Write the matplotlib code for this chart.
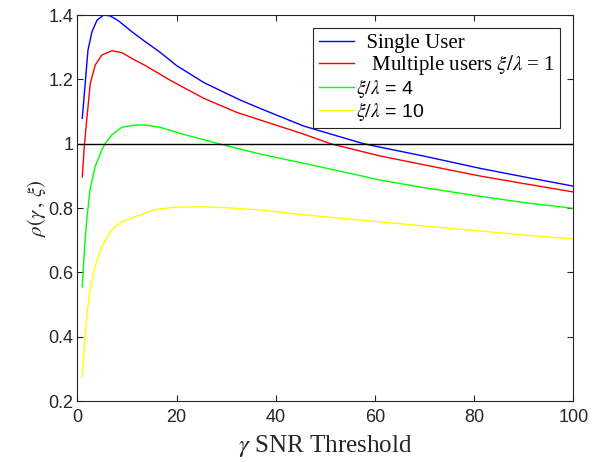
import numpy as np
import matplotlib
matplotlib.use("Agg")
import matplotlib.pyplot as plt
from matplotlib.ticker import FormatStrFormatter

plt.rcParams['mathtext.fontset'] = 'stix'

# values
x_single = [1.0, 1.5, 2.15, 2.96, 3.97, 5.3, 6.65, 8.3, 11.0, 13.7, 16.7, 20, 25.5, 32.8, 36.8, 45.6, 52.4, 57.7, 61.1, 70, 81.3, 90, 100]
y_single = [1.079, 1.17, 1.291, 1.348, 1.384, 1.40, 1.397, 1.382, 1.348, 1.317, 1.284, 1.243, 1.19, 1.136, 1.11, 1.055, 1.024, 1.0, 0.989, 0.961, 0.923, 0.897, 0.868]

x_multi1 = [1.0, 1.4, 1.9, 2.62, 3.63, 4.98, 7.0, 9.0, 11.0, 13.7, 18.75, 25.5, 32.2, 36.8, 45.6, 51, 61, 70, 81, 90, 100]
y_multi1 = [0.897, 0.99, 1.074, 1.188, 1.245, 1.276, 1.289, 1.283, 1.265, 1.243, 1.197, 1.141, 1.097, 1.074, 1.03, 1.0, 0.962, 0.934, 0.9, 0.876, 0.85]

x_multi4 = [1.0, 1.4, 1.9, 2.56, 3.57, 4.92, 5.58, 6.93, 8.95, 11.6, 13.6, 16.7, 20.7, 28.5, 36.8, 49, 61, 70, 81, 90, 100]
y_multi4 = [0.555, 0.659, 0.763, 0.856, 0.928, 0.98, 1.0, 1.027, 1.051, 1.058, 1.058, 1.051, 1.032, 1.0, 0.968, 0.928, 0.887, 0.863, 0.837, 0.817, 0.799]

x_multi10 = [1.0, 1.4, 1.9, 2.56, 3.57, 4.92, 6.93, 8.95, 11.6, 13.6, 16.0, 19.4, 24.7, 30.1, 36.8, 45.6, 61, 70, 81, 90, 100]
y_multi10 = [0.276, 0.369, 0.462, 0.545, 0.617, 0.68, 0.732, 0.757, 0.773, 0.784, 0.796, 0.802, 0.804, 0.801, 0.794, 0.779, 0.757, 0.744, 0.729, 0.716, 0.704]

labels = ['  Single User', '   Multiple users $\\xi/\\lambda$ = 1', '$\\xi/\\lambda$ = 4', '$\\xi/\\lambda$ = 10']
colors = ['#0000ff', '#ff0000', '#00ff00', '#ffff00']

fig = plt.figure(figsize=(6.03, 4.62), dpi=100)
ax = fig.add_axes([0.1282, 0.132, 0.8226, 0.8355])

ax.plot(x_single, y_single, color=colors[0], lw=1, label=labels[0])
ax.plot(x_multi1, y_multi1, color=colors[1], lw=1, label=labels[1])
ax.plot(x_multi4, y_multi4, color=colors[2], lw=1, label=labels[2])
ax.plot(x_multi10, y_multi10, color=colors[3], lw=1, label=labels[3])
ax.plot([0, 100], [1, 1], color='black', lw=1)

ax.set_xlim(0, 100)
ax.set_ylim(0.2, 1.4)
ax.set_xticks([0, 20, 40, 60, 80, 100])
ax.set_yticks([0.2, 0.4, 0.6, 0.8, 1.0, 1.2, 1.4])
ax.yaxis.set_major_formatter(FormatStrFormatter('%g'))
ax.tick_params(direction='in', top=True, right=True, length=4, width=0.8,
               labelsize=13, colors='#262626', pad=3)
ax.tick_params(axis='x', pad=6)
for lab in ax.get_xticklabels() + ax.get_yticklabels():
    lab.set_family('Liberation Sans')
for s in ax.spines.values():
    s.set_color('#262626')
    s.set_linewidth(0.8)

ax.set_xlabel('$\\gamma$ SNR Threshold', family='Liberation Serif', fontsize=18, color='#262626', labelpad=4.5)
ax.set_ylabel('$\\rho(\\gamma\\,,\\,\\xi)$', fontsize=15, color='#262626', labelpad=0)

leg = ax.legend(loc='upper right', bbox_to_anchor=(0.974, 0.966), fancybox=False,
                edgecolor='#262626', framealpha=1, fontsize=15, handlelength=1.7,
                handletextpad=0.1, borderpad=0.25, labelspacing=0.0, borderaxespad=0)
leg.get_frame().set_linewidth(0.8)
for i, t in enumerate(leg.get_texts()):
    t.set_family('Liberation Serif' if i < 2 else 'Liberation Sans')
    if i >= 2:
        t.set_fontsize(14)
    t.set_color('black')

fig.savefig('out.png', dpi=100)
